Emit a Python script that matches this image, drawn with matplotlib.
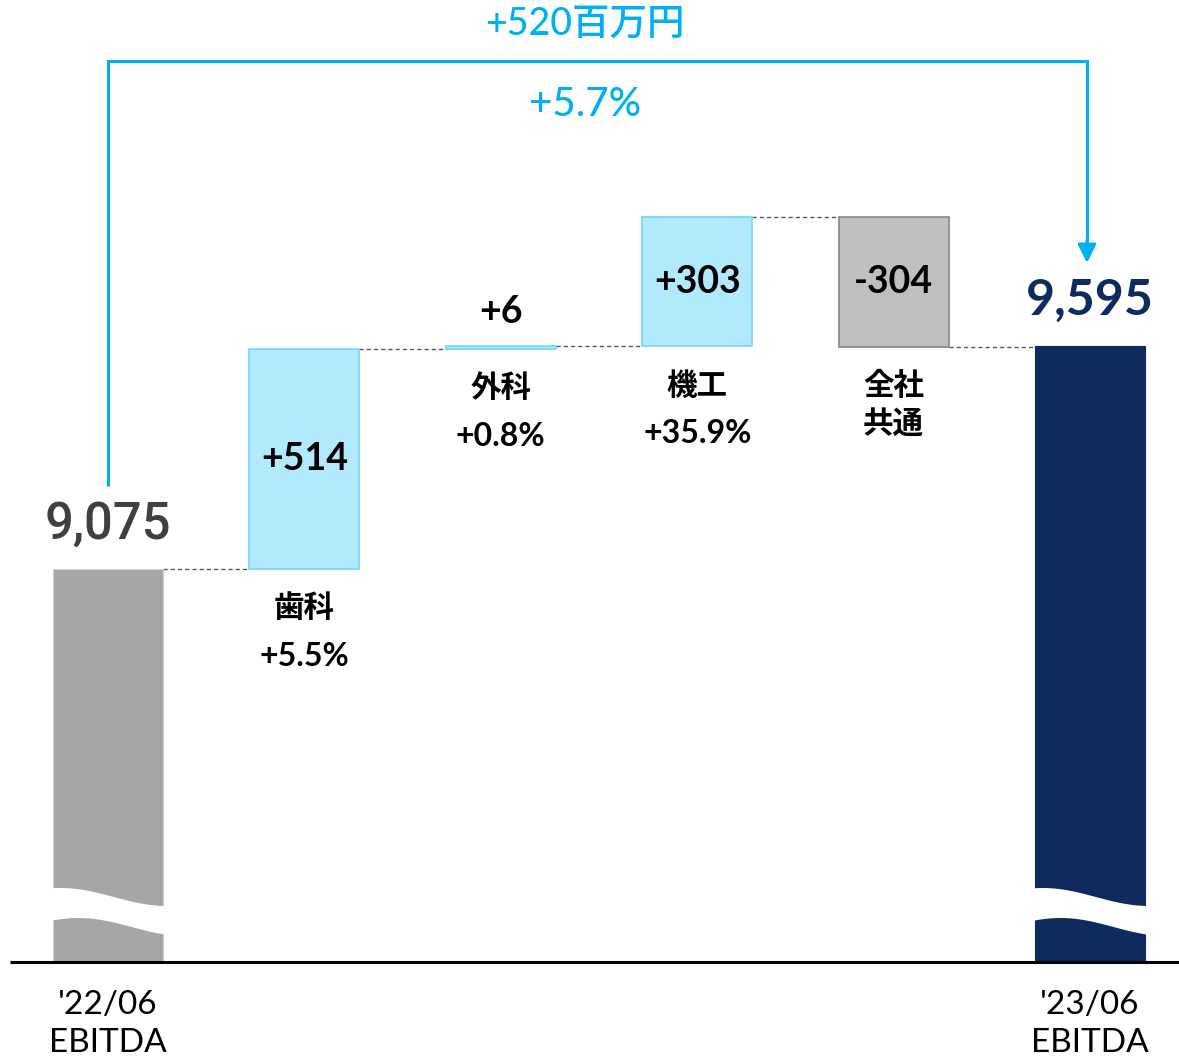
import matplotlib
matplotlib.use('Agg')
import matplotlib.pyplot as plt
import numpy as np
from matplotlib.patches import Polygon

plt.rcParams['font.family'] = ['Lato', 'Noto Sans CJK JP', 'DejaVu Sans']

# ---- data ----
start_label = ["'22/06", "EBITDA"]
end_label = ["'23/06", "EBITDA"]
start_value = 9075
end_value = 9595
segments = [['歯科'], ['外科'], ['機工'], ['全社', '共通']]
deltas = [514, 6, 303, -304]
delta_labels = ['+514', '+6', '+303', '-304']
growth = ['+5.5%', '+0.8%', '+35.9%', None]
total_change = '+520百万円'
total_pct = '+5.7%'

# ---- colours ----
C_START = '#a6a6a6'
C_END = '#0f2a5c'
C_UP = '#b0eafc'
C_UP_EDGE = '#74d4f5'
C_DOWN = '#bfbfbf'
C_DOWN_EDGE = '#858585'
C_CYAN = '#00b0f0'

# ---- layout ----
W_PX, H_PX = 1179, 1058
fig = plt.figure(figsize=(W_PX / 100, H_PX / 100), dpi=100)
AX_BOTTOM_PX = 962
ax = fig.add_axes([0, (H_PX - AX_BOTTOM_PX) / H_PX, 1, AX_BOTTOM_PX / H_PX])
K = 220 / 514            # pixels per unit
START_TOP_PX = 569
y_lo = start_value - (AX_BOTTOM_PX - START_TOP_PX) / K
y_hi = start_value + START_TOP_PX / K
ax.set_ylim(y_lo, y_hi)
X0, DX = 108, 196.4
ax.set_xlim(-X0 / DX, (W_PX - X0) / DX)
ax.axis('off')


def px2y(p):
    return y_lo + (AX_BOTTOM_PX - p) / K


def px2x(p):
    return (p - X0) / DX


W = 110 / DX
PT = 0.72  # points per pixel

# start bar
ax.bar(0, start_value, width=W, color=C_START, edgecolor='#d0d0d0', lw=0.8, zorder=2)
ax.annotate(f'{start_value:,}', (0, start_value), xytext=(0, 44 * PT), textcoords='offset points',
            ha='center', va='center', fontsize=36.5, color='#404040', fontweight='medium',
            family=['Roboto', 'Lato', 'DejaVu Sans'])

cum = start_value
n = len(deltas)
for i, d in enumerate(deltas):
    x = i + 1
    lo = cum if d >= 0 else cum + d
    hi = lo + abs(d)
    if d >= 0:
        ax.bar(x, abs(d), bottom=lo, width=W, color=C_UP, edgecolor=C_UP_EDGE, lw=1.2, zorder=2)
    else:
        ax.bar(x, abs(d), bottom=lo, width=W, color=C_DOWN, edgecolor=C_DOWN_EDGE, lw=1.2, zorder=2)
    # connector from previous bar
    ax.plot([x - 1 + W / 2, x - W / 2], [cum, cum], color='#595959', lw=1.0,
            dashes=(3, 2.2), zorder=1)
    # value label
    if abs(d) * K > 50:
        ax.annotate(delta_labels[i], (x, (lo + hi) / 2), xytext=(0, 0), textcoords='offset points',
                    ha='center', va='center', fontsize=27, fontweight='bold', color='black')
    else:
        ax.annotate(delta_labels[i], (x, hi), xytext=(0, 34 * PT), textcoords='offset points',
                    ha='center', va='center', fontsize=27, fontweight='bold', color='black')
    # category labels
    lines = segments[i]
    off = 39
    for j, s in enumerate(lines):
        ax.annotate(s, (x, lo), xytext=(0, -(off + 37 * j) * PT), textcoords='offset points',
                    ha='center', va='center', fontsize=22, fontweight='bold', color='black')
    if growth[i] is not None:
        ax.annotate(growth[i], (x, lo), xytext=(0, -(off + 48) * PT), textcoords='offset points',
                    ha='center', va='center', fontsize=23, fontweight='bold', color='black')
    cum += d

# final connector + bar
xe = n + 1
ax.plot([xe - 1 + W / 2, xe - W / 2], [cum, cum], color='#595959', lw=1.0, dashes=(3, 2.2), zorder=1)
ax.bar(xe, end_value, width=W, color=C_END, edgecolor=C_END, lw=0.8, zorder=2)
ax.annotate(f'{end_value:,}', (xe, end_value), xytext=(0, 46 * PT), textcoords='offset points',
            ha='center', va='center', fontsize=36, color=C_END, fontweight='bold')

# wave breaks
t = np.linspace(0, 1, 80)
top_px = 897 - 9 * np.cos(np.pi * (t - 0.1) / 0.9)
bot_px = 897 - 9 * np.cos(np.pi * (t - 0.25) / 0.9) + 30
for xc in (0, xe):
    xx = xc - W / 2 - 0.02 + t * (W + 0.04)
    verts = np.concatenate([np.column_stack([xx, px2y(top_px)]),
                            np.column_stack([xx[::-1], px2y(bot_px[::-1])])])
    ax.add_patch(Polygon(verts, closed=True, facecolor='white', edgecolor='none', zorder=3))

# baseline
ax.plot([px2x(10), px2x(W_PX)], [y_lo, y_lo], color='black', lw=2.2, clip_on=False, zorder=4,
        solid_capstyle='butt')

# bottom labels
for xc, lab in ((0, start_label), (xe, end_label)):
    for j, s in enumerate(lab):
        ax.annotate(s, (xc, y_lo), xytext=(0, -(43 + 38 * j) * PT), textcoords='offset points',
                    ha='center', va='center', fontsize=24, color='black', annotation_clip=False)

# bracket + arrow
xr = px2x(1087)
y_start = px2y(486)
y_top = px2y(61)
y_tip = px2y(263)
ax.plot([0, 0, xr, xr], [y_start, y_top, y_top, px2y(250)], color=C_CYAN, lw=2.2,
        solid_joinstyle='miter', solid_capstyle='butt', zorder=5)
ax.annotate('', xy=(xr, y_tip), xytext=(xr, px2y(240)),
            arrowprops=dict(arrowstyle='-|>', color=C_CYAN, lw=2.2, mutation_scale=28,
                            shrinkA=0, shrinkB=0), zorder=5)
ax.text(px2x(585), px2y(24), total_change, ha='center', va='center', fontsize=27,
        color=C_CYAN, fontweight='medium')
ax.text(px2x(585), px2y(104), total_pct, ha='center', va='center', fontsize=29,
        color=C_CYAN, fontweight='medium')

fig.savefig('out.png', dpi=100)
